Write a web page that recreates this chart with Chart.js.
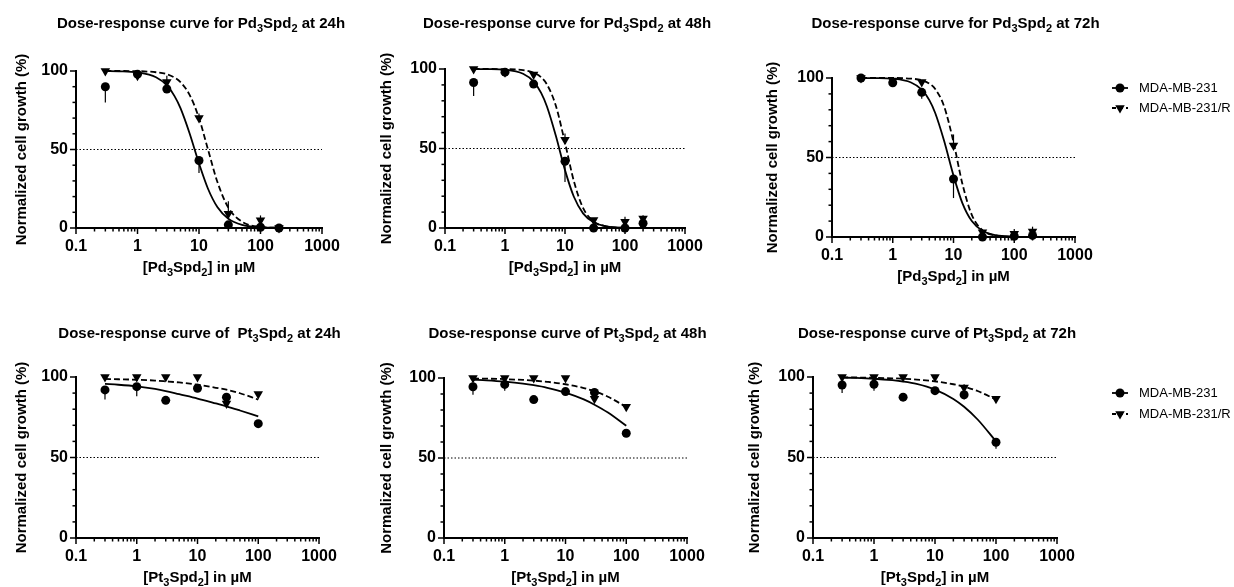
<!DOCTYPE html>
<html>
<head>
<meta charset="utf-8">
<script src="https://cdn.jsdelivr.net/npm/chart.js@4.4.1/dist/chart.umd.min.js"></script>
<style>
  body { margin: 0; background: #fff; }
  #wrap { position: relative; width: 1234px; height: 587px; overflow: hidden; }
  #wrap canvas { position: absolute; }
</style>
</head>
<body>
<div id="wrap"></div>
<script>
// concentrations in µM
const pdDoses = [0.3, 1, 3, 10, 30, 100, 200];
const ptDoses = [0.3, 1, 3, 10, 30, 100];
const pdFitX = [0.3, 0.5, 1, 2, 3, 4, 5, 7, 10, 14, 20, 30, 50, 100, 200];
const ptFitX = [0.3, 0.5, 1, 2, 3, 5, 10, 20, 30, 50, 100];

const xTickValues = [0.1, 1, 10, 100, 1000];
const yTickValues = [0, 50, 100];
const halfLine = [0.1, 1000];
const halfLevel = 50;
const seriesNames = ['MDA-MB-231', 'MDA-MB-231/R'];

// Pd3Spd2, 24h
const pd24Wt = [90, 98, 88.5, 43, 2, 0.5, 0];
const pd24WtErr = [10, 2, 2, 8, 1, 1, 0];
const pd24R = [100, 97, 93, 70, 9, 5, 0];
const pd24RErr = [0, 2, 4, 3, 8, 3, 0];
const pd24WtFit = [99.9, 99.8, 99.1, 96.0, 90.8, 84.0, 76.3, 60.5, 41.1, 25.0, 13.2, 5.9, 2.0, 0.4, 0.1];
const pd24RFit = [100, 100, 99.9, 99.2, 98.0, 95.8, 92.9, 85.0, 70.0, 50.0, 29.1, 13.0, 4.0, 0.7, 0.1];

// Pd3Spd2, 48h
const pd48Wt = [91.5, 98, 90.5, 42, 0, 0, 3];
const pd48WtErr = [8.5, 2, 2, 13, 0, 0, 2];
const pd48R = [100, 98, 96.5, 55.5, 5, 4, 6];
const pd48RErr = [0, 1, 1, 4, 1, 3, 2];
const pd48WtFit = [100, 99.9, 99.5, 97.0, 92.1, 85.0, 76.4, 58.3, 36.4, 19.8, 9.2, 3.6, 1.0, 0.2, 0];
const pd48RFit = [100, 100, 99.9, 99.3, 97.7, 94.8, 90.3, 77.2, 53.6, 29.7, 12.6, 4.1, 0.9, 0.1, 0];

// Pd3Spd2, 72h
const pd72Wt = [100, 97, 91, 36.5, 0, 0.5, 1];
const pd72WtErr = [0, 2, 4, 12, 0, 1, 1];
const pd72R = [100, 98.5, 97.5, 57.5, 3, 2, 3.5];
const pd72RErr = [0, 1, 1, 7, 2, 3, 3];
const pd72WtFit = [100, 99.9, 99.5, 97.2, 92.7, 86.1, 78.0, 60.5, 38.6, 21.3, 10.0, 3.9, 1.1, 0.2, 0];
const pd72RFit = [100, 100, 100, 99.6, 98.6, 96.5, 93.1, 82.2, 59.7, 33.5, 13.9, 4.2, 0.9, 0.1, 0];

// Pt3Spd2, 24h
const pt24Wt = [92, 94, 85.5, 93, 87.5, 71];
const pt24WtErr = [6, 6, 1, 2, 2, 1];
const pt24R = [100, 100, 100, 100, 83.5, 89.5];
const pt24RErr = [0, 0, 0, 0, 2, 1];
const pt24WtFit = [95.7, 95.2, 94.2, 92.6, 91.3, 89.3, 86.6, 83.6, 81.8, 79.2, 75.5];
const pt24RFit = [98.8, 98.6, 98.3, 97.8, 97.3, 96.6, 95.2, 93.3, 92.1, 89.9, 86.0];

// Pt3Spd2, 48h
const pt48Wt = [94.5, 96, 86.5, 91.5, 91, 65.5];
const pt48WtErr = [5, 4, 1, 2, 1, 1];
const pt48R = [100, 100, 100, 100, 87, 82];
const pt48RErr = [0, 0, 0, 0, 3, 1];
const pt48WtFit = [98.9, 98.5, 97.7, 96.5, 95.5, 93.9, 90.9, 86.6, 83.3, 78.4, 70.1];
const pt48RFit = [99.7, 99.6, 99.3, 98.8, 98.4, 97.6, 96.1, 93.7, 91.7, 88.3, 81.9];

// Pt3Spd2, 72h
const pt72Wt = [95, 95.5, 87.5, 91.5, 89, 59.5];
const pt72WtErr = [5, 4, 1, 1, 3, 4];
const pt72R = [100, 100, 100, 100, 93.5, 86.5];
const pt72RErr = [0, 0, 0, 0, 2, 1];
const pt72WtFit = [99.6, 99.4, 98.9, 98.0, 97.2, 95.7, 92.2, 86.4, 81.5, 73.6, 60.0];
const pt72RFit = [99.8, 99.7, 99.5, 99.2, 98.9, 98.4, 97.3, 95.5, 94.0, 91.3, 86.0];

const FONT = "'Liberation Sans', Arial, sans-serif";

// text pieces: [text, isSubscript]
function formula(before, metal, after) {
  return [[before + metal, 0], ['3', 1], ['Spd', 0], ['2', 1], [after, 0]];
}

// box / area are page pixels: [left, top, right, bottom]
const panels = [
  { box: [0, 0, 370, 290], area: [76, 71, 322, 228], titleY: 24, yTitleX: 22,
    title: formula('Dose-response curve for ', 'Pd', ' at 24h'), xLabel: formula('[', 'Pd', '] in µM'),
    x: pdDoses, fitX: pdFitX, wt: pd24Wt, wtErr: pd24WtErr, r: pd24R, rErr: pd24RErr, wtFit: pd24WtFit, rFit: pd24RFit },
  { box: [370, 0, 760, 290], area: [445, 69, 685, 228], titleY: 24, yTitleX: 387,
    title: formula('Dose-response curve for ', 'Pd', ' at 48h'), xLabel: formula('[', 'Pd', '] in µM'),
    x: pdDoses, fitX: pdFitX, wt: pd48Wt, wtErr: pd48WtErr, r: pd48R, rErr: pd48RErr, wtFit: pd48WtFit, rFit: pd48RFit },
  { box: [760, 0, 1234, 290], area: [832, 78, 1075, 237], titleY: 24, yTitleX: 773, legend: [1112, 88, 108],
    title: formula('Dose-response curve for ', 'Pd', ' at 72h'), xLabel: formula('[', 'Pd', '] in µM'),
    x: pdDoses, fitX: pdFitX, wt: pd72Wt, wtErr: pd72WtErr, r: pd72R, rErr: pd72RErr, wtFit: pd72WtFit, rFit: pd72RFit },
  { box: [0, 290, 370, 587], area: [76, 377, 319, 538], titleY: 334, yTitleX: 22,
    title: formula('Dose-response curve of  ', 'Pt', ' at 24h'), xLabel: formula('[', 'Pt', '] in µM'),
    x: ptDoses, fitX: ptFitX, wt: pt24Wt, wtErr: pt24WtErr, r: pt24R, rErr: pt24RErr, wtFit: pt24WtFit, rFit: pt24RFit },
  { box: [370, 290, 740, 587], area: [444, 378, 687, 538], titleY: 334, yTitleX: 387,
    title: formula('Dose-response curve of ', 'Pt', ' at 48h'), xLabel: formula('[', 'Pt', '] in µM'),
    x: ptDoses, fitX: ptFitX, wt: pt48Wt, wtErr: pt48WtErr, r: pt48R, rErr: pt48RErr, wtFit: pt48WtFit, rFit: pt48RFit },
  { box: [740, 290, 1234, 587], area: [813, 377, 1057, 538], titleY: 334, yTitleX: 755, legend: [1112, 393, 414],
    title: formula('Dose-response curve of ', 'Pt', ' at 72h'), xLabel: formula('[', 'Pt', '] in µM'),
    x: ptDoses, fitX: ptFitX, wt: pt72Wt, wtErr: pt72WtErr, r: pt72R, rErr: pt72RErr, wtFit: pt72WtFit, rFit: pt72RFit }
];

function drawRich(ctx, segs, cx, cy, size) {
  const main = 'bold ' + size + 'px ' + FONT;
  const sub = 'bold ' + Math.round(size * 0.7) + 'px ' + FONT;
  let w = 0;
  segs.forEach(s => { ctx.font = s[1] ? sub : main; w += ctx.measureText(s[0]).width; });
  let x = cx - w / 2;
  ctx.textAlign = 'left';
  ctx.textBaseline = 'middle';
  ctx.fillStyle = '#000';
  segs.forEach(s => {
    ctx.font = s[1] ? sub : main;
    ctx.fillText(s[0], x, cy + (s[1] ? size * 0.32 : 0));
    x += ctx.measureText(s[0]).width;
  });
}

function marker(ctx, style, x, y) {
  ctx.beginPath();
  if (style === 'circle') {
    ctx.arc(x, y, 4.5, 0, Math.PI * 2);
  } else {
    const r = 5.5;
    ctx.moveTo(x, y + r);
    ctx.lineTo(x - r * 0.866, y - r / 2);
    ctx.lineTo(x + r * 0.866, y - r / 2);
    ctx.closePath();
  }
  ctx.fill();
}

function decoPlugin(p) {
  const ox = p.box[0], oy = p.box[1];
  return {
    id: 'deco',
    beforeDatasetsDraw(chart) {
      // error bars: circles downward, triangles upward
      const ctx = chart.ctx, ys = chart.scales.y;
      ctx.save();
      ctx.strokeStyle = '#000';
      ctx.lineWidth = 1.2;
      chart.data.datasets.forEach((ds, i) => {
        if (!ds.errors) return;
        chart.getDatasetMeta(i).data.forEach((pt, j) => {
          const e = ds.errors[j];
          if (!e) return;
          const v = ds.data[j].y;
          ctx.beginPath();
          ctx.moveTo(pt.x, ys.getPixelForValue(v));
          ctx.lineTo(pt.x, ys.getPixelForValue(v + ds.errDir * e));
          ctx.stroke();
        });
      });
      ctx.restore();
    },
    afterDraw(chart) {
      const ctx = chart.ctx, ca = chart.chartArea;
      const xs = chart.scales.x, ys = chart.scales.y;
      ctx.save();
      ctx.strokeStyle = '#000';
      ctx.lineWidth = 1.5;
      // x tick marks, major at decades, minor at 2..9
      [0.1, 1, 10, 100].forEach(d => {
        for (let m = 1; m <= 9; m++) {
          const px = xs.getPixelForValue(m * d);
          ctx.beginPath();
          ctx.moveTo(px, ca.bottom);
          ctx.lineTo(px, ca.bottom + (m === 1 ? 6 : 3.5));
          ctx.stroke();
        }
      });
      const pEnd = xs.getPixelForValue(1000);
      ctx.beginPath(); ctx.moveTo(pEnd, ca.bottom); ctx.lineTo(pEnd, ca.bottom + 6); ctx.stroke();
      // y tick marks every 10
      for (let v = 0; v <= 100; v += 10) {
        const py = ys.getPixelForValue(v);
        ctx.beginPath();
        ctx.moveTo(ca.left, py);
        ctx.lineTo(ca.left - (v % 50 === 0 ? 6 : 3.5), py);
        ctx.stroke();
      }
      const cx = (ca.left + ca.right) / 2;
      drawRich(ctx, p.title, cx + 2, p.titleY - oy, 15);
      drawRich(ctx, p.xLabel, cx, ca.bottom + 40, 15);
      ctx.save();
      ctx.translate(p.yTitleX - ox, (ca.top + ca.bottom) / 2);
      ctx.rotate(-Math.PI / 2);
      ctx.font = 'bold 15px ' + FONT;
      ctx.textAlign = 'center';
      ctx.textBaseline = 'middle';
      ctx.fillStyle = '#000';
      ctx.fillText('Normalized cell growth (%)', 0, 0);
      ctx.restore();
      if (p.legend) {
        const lx = p.legend[0] - ox;
        [['circle', []], ['triangle', [4, 3]]].forEach((it, k) => {
          const ly = p.legend[k + 1] - oy;
          ctx.lineWidth = 1.8;
          ctx.setLineDash(it[1]);
          ctx.beginPath(); ctx.moveTo(lx, ly); ctx.lineTo(lx + 16, ly); ctx.stroke();
          ctx.setLineDash([]);
          ctx.fillStyle = '#000';
          marker(ctx, it[0], lx + 8, ly);
          ctx.font = '13px ' + FONT;
          ctx.textAlign = 'left';
          ctx.textBaseline = 'middle';
          ctx.fillText(seriesNames[k], lx + 27, ly);
        });
      }
      ctx.restore();
    }
  };
}

const wrap = document.getElementById('wrap');
panels.forEach(p => {
  const [bl, bt, br, bb] = p.box;
  const [al, at, ar, ab] = p.area;
  const cv = document.createElement('canvas');
  cv.width = br - bl;
  cv.height = bb - bt;
  cv.style.left = bl + 'px';
  cv.style.top = bt + 'px';
  wrap.appendChild(cv);

  const tickFont = { family: FONT, size: 16, weight: 'bold' };
  new Chart(cv.getContext('2d'), {
    type: 'line',
    data: {
      datasets: [
        { label: seriesNames[0], data: p.x.map((v, i) => ({ x: v, y: p.wt[i] })), showLine: false,
          pointStyle: 'circle', pointRadius: 4.5, pointBorderWidth: 0, backgroundColor: '#000', borderColor: '#000',
          errors: p.wtErr, errDir: -1, clip: false },
        { label: seriesNames[1], data: p.x.map((v, i) => ({ x: v, y: p.r[i] })), showLine: false,
          pointStyle: 'triangle', pointRotation: 180, pointRadius: 5.5, pointBorderWidth: 0, backgroundColor: '#000', borderColor: '#000',
          errors: p.rErr, errDir: 1, clip: false },
        { label: 'fit ' + seriesNames[0], data: p.fitX.map((v, i) => ({ x: v, y: p.wtFit[i] })),
          borderColor: '#000', borderWidth: 1.8, pointRadius: 0, cubicInterpolationMode: 'monotone', clip: false },
        { label: 'fit ' + seriesNames[1], data: p.fitX.map((v, i) => ({ x: v, y: p.rFit[i] })),
          borderColor: '#000', borderWidth: 1.8, borderDash: [6, 3], pointRadius: 0, cubicInterpolationMode: 'monotone', clip: false },
        { label: '50%', data: halfLine.map(v => ({ x: v, y: halfLevel })),
          borderColor: '#000', borderWidth: 1.1, borderDash: [1.5, 2], pointRadius: 0 }
      ]
    },
    options: {
      responsive: false,
      animation: false,
      events: [],
      layout: { padding: { left: 0, top: at - bt, right: br - ar, bottom: 0 } },
      plugins: { legend: { display: false }, tooltip: { enabled: false } },
      scales: {
        x: {
          type: 'logarithmic', min: 0.1, max: 1000,
          afterBuildTicks: s => { s.ticks = xTickValues.map(v => ({ value: v })); },
          afterFit: s => { s.height = bb - ab; },
          grid: { display: false, drawTicks: false },
          border: { display: true, color: '#000', width: 2 },
          ticks: { color: '#000', font: tickFont, padding: 9, autoSkip: false, maxRotation: 0,
                   callback: v => String(v) }
        },
        y: {
          min: 0, max: 100,
          afterBuildTicks: s => { s.ticks = yTickValues.map(v => ({ value: v })); },
          afterFit: s => { s.width = al - bl; },
          grid: { display: false, drawTicks: false },
          border: { display: true, color: '#000', width: 2 },
          ticks: { color: '#000', font: tickFont, padding: 8 }
        }
      }
    },
    plugins: [decoPlugin(p)]
  });
});
</script>
</body>
</html>
